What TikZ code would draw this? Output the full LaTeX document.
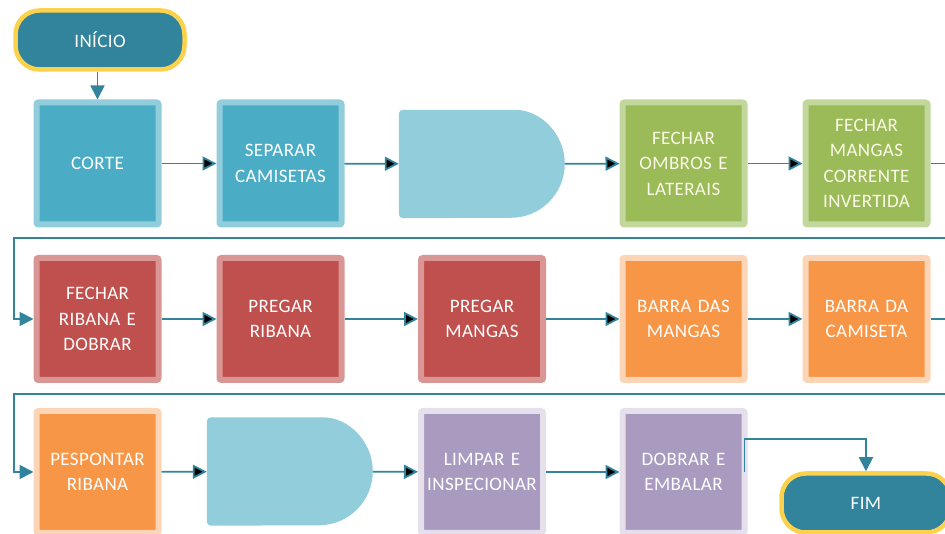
\documentclass[tikz,border=0pt]{standalone}
\usepackage{fontspec}
\setmainfont[LetterSpace=2]{Carlito}
\usetikzlibrary{arrows.meta}
\definecolor{linha}{HTML}{31849B}
\definecolor{terminal}{HTML}{31849B}
\definecolor{amarelo}{HTML}{FCD24C}
\definecolor{azul}{HTML}{4BACC6}
\definecolor{azulclaro}{HTML}{92CDDC}
\definecolor{verde}{HTML}{9BBB59}
\definecolor{verdeclaro}{HTML}{C3D69B}
\definecolor{vermelho}{HTML}{C0504D}
\definecolor{vermelhoclaro}{HTML}{D99694}
\definecolor{laranja}{HTML}{F79646}
\definecolor{laranjaclaro}{HTML}{FBD5B5}
\definecolor{roxo}{HTML}{A99BC0}
\definecolor{roxoclaro}{HTML}{E5E0EC}
\definecolor{creme}{HTML}{FAFAE6}

\begin{document}
\begin{tikzpicture}[x=1pt,y=1pt,
	passo/.style={rectangle,rounded corners=2pt,line width=6pt,minimum width=122pt,minimum height=122pt,inner sep=1pt,text width=118pt,align=center,text=white,font=\fontsize{19}{25.5}\selectfont},
	terminal/.style={rectangle,rounded corners=24pt,line width=4.5pt,fill=terminal,draw=amarelo,minimum width=169pt,minimum height=59pt,text=white,font=\fontsize{19}{22}\selectfont},
	espera/.style={minimum width=166pt,minimum height=108pt,inner sep=0pt},
	fluxo/.style={draw=linha,line width=1.8pt,-{Triangle[length=14pt,width=14pt]}}]
	\path[use as bounding box,clip] (0,0) rectangle (945,534);
	\node[terminal] (inicio) at (100,494) {INÍCIO};
	\node[terminal] (fim) at (866,31) {FIM};
	\begin{scope}[every node/.style={passo}]
	\node[fill=azul,draw=azulclaro] (corte) at (97.5,370.5) {CORTE};
	\node[fill=azul,draw=azulclaro] (separar) at (280.5,370.5) {SEPARAR\\CAMISETAS};
	\node[fill=verde,draw=verdeclaro,text=creme] (fombros) at (683.5,370.5) {FECHAR\\OMBROS E\\LATERAIS};
	\node[fill=verde,draw=verdeclaro,text=creme] (fmangas) at (866.5,370.5) {FECHAR\\MANGAS\\CORRENTE\\INVERTIDA};
	\node[fill=vermelho,draw=vermelhoclaro] (fribana) at (97.5,215) {FECHAR\\RIBANA E\\DOBRAR};
	\node[fill=vermelho,draw=vermelhoclaro] (pribana) at (280.5,215) {PREGAR\\RIBANA};
	\node[fill=vermelho,draw=vermelhoclaro] (pmangas) at (482,215) {PREGAR\\MANGAS};
	\node[fill=laranja,draw=laranjaclaro] (bmangas) at (683.5,215) {BARRA DAS\\MANGAS};
	\node[fill=laranja,draw=laranjaclaro] (bcamiseta) at (866.5,215) {BARRA DA\\CAMISETA};
	\node[fill=laranja,draw=laranjaclaro] (pespontar) at (97.5,62) {PESPONTAR\\RIBANA};
	\node[fill=roxo,draw=roxoclaro] (limpar) at (482,62) {LIMPAR E\\INSPECIONAR};
	\node[fill=roxo,draw=roxoclaro] (dobrar) at (683.5,62) {DOBRAR E\\EMBALAR};
	\end{scope}
	\node[espera] (espera1) at (482,370) {};
	\node[espera] (espera2) at (290,62.5) {};
	\fill[azulclaro] (espera1.north west) ++(112,0) arc[start angle=90,end angle=-90,radius=54] [rounded corners=4pt] -- (espera1.south west) -- (espera1.north west) -- cycle;
	\fill[azulclaro] (espera2.north west) ++(112,0) arc[start angle=90,end angle=-90,radius=54] [rounded corners=4pt] -- (espera2.south west) -- (espera2.north west) -- cycle;
	\coordinate (volta1) at (955,296);
	\coordinate (volta1b) at (14,296);
	\coordinate (volta2) at (955,140);
	\coordinate (volta2b) at (14,140);
	\coordinate (saida) at (800,95);
	\draw [fluxo] (corte.north |- inicio.south) -- (corte.north);
	\draw [fluxo] (corte) edge (separar);
	\draw [fluxo] (separar) edge (espera1);
	\draw [fluxo] (espera1) edge (fombros);
	\draw [fluxo] (fombros) edge (fmangas);
	\draw [fluxo] (fmangas.east) -| (volta1) -- (volta1b) |- (fribana.west);
	\draw [fluxo] (fribana) edge (pribana);
	\draw [fluxo] (pribana) edge (pmangas);
	\draw [fluxo] (pmangas) edge (bmangas);
	\draw [fluxo] (bmangas) edge (bcamiseta);
	\draw [fluxo] (bcamiseta.east) -| (volta2) -- (volta2b) |- (pespontar.west);
	\draw [fluxo] (pespontar) edge (espera2);
	\draw [fluxo] (espera2) edge (limpar);
	\draw [fluxo] (limpar) edge (dobrar);
	\draw [fluxo] ([xshift=-3pt]dobrar.east) |- (saida) -| (fim.north);
\end{tikzpicture}
\end{document}
